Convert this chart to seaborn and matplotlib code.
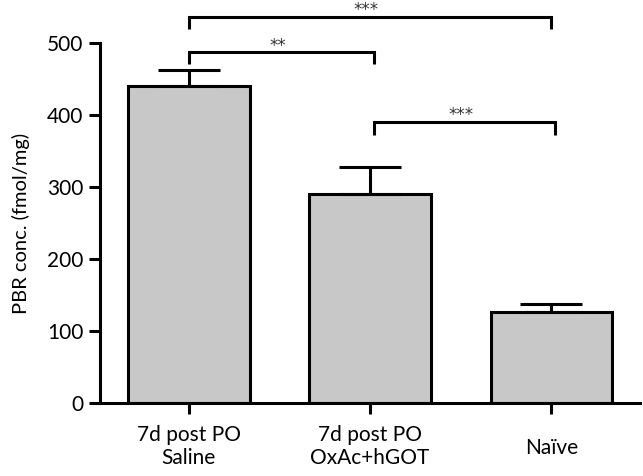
import pandas as pd
import matplotlib
matplotlib.use("Agg")
import matplotlib.pyplot as plt
import matplotlib.transforms as mtransforms
import seaborn as sns

# values
groups = ["7d post PO\nSaline", "7d post PO\nOxAc+hGOT", "Naïve"]
means = [440, 290, 126]
sems = [22, 38, 12]

# significance brackets: (left group, right group, label)
comparisons = [(0, 2, "***"), (0, 1, "**"), (1, 2, "***")]

sns.set_style("ticks")
plt.rcParams["font.family"] = ["Lato", "DejaVu Sans"]
plt.rcParams["text.color"] = "black"
plt.rcParams["axes.labelcolor"] = "black"
plt.rcParams["xtick.color"] = "black"
plt.rcParams["ytick.color"] = "black"

df = pd.DataFrame({"group": groups, "conc": means})

fig = plt.figure(figsize=(6.43, 4.76), dpi=100)
ax = fig.add_axes([0.1555, 0.1534, 0.84, 0.7563])

sns.barplot(data=df, x="group", y="conc", color="#c8c8c8", saturation=1,
            width=0.67, edgecolor="black", linewidth=2.2, errorbar=None, ax=ax)

x = range(len(groups))
ax.errorbar(x, means, yerr=[[0] * len(sems), sems], fmt="none", ecolor="black",
            elinewidth=2.2, capsize=22, capthick=2.2, zorder=1)

ax.set_xlim(-0.49, 2.49)
ax.set_ylim(0, 500)
ax.set_yticks([0, 100, 200, 300, 400, 500])
ax.set_xlabel("")
ax.set_ylabel("PBR conc. (fmol/mg)", fontsize=14.5, labelpad=12)

for s in ["top", "right"]:
    ax.spines[s].set_visible(False)
for s in ["left", "bottom"]:
    ax.spines[s].set_linewidth(2.2)
    ax.spines[s].set_color("black")
ax.tick_params(axis="y", length=8, width=2.2, labelsize=15, pad=4)
ax.tick_params(axis="x", length=8, width=2.2, labelsize=15, pad=8)
for lab in ax.get_xticklabels():
    lab.set_linespacing(1.15)
    if "\n" not in lab.get_text():
        # single-line label sits between the two lines of its neighbours
        lab.set_transform(lab.get_transform() + mtransforms.ScaledTranslation(0, -13 / 100, fig.dpi_scale_trans))

# bracket geometry
levels = {(0, 2): (536, 519), (0, 1): (487, 471), (1, 2): (390, 372)}
offsets = {(0, 2): (0, 0), (0, 1): (0, 0.02), (1, 2): (0.02, 0.02)}
for a, b, label in comparisons:
    top, leg = levels[(a, b)]
    da, db = offsets[(a, b)]
    xa, xb = a + da, b + db
    ax.plot([xa, xa, xb, xb], [leg, top, top, leg], color="black", lw=2.2,
            clip_on=False, solid_capstyle="butt", solid_joinstyle="miter")
    ax.text((xa + xb) / 2 - 0.02, top - 3, label, ha="center", va="bottom",
            fontsize=12, family="DejaVu Sans", color="#333333", clip_on=False)

fig.savefig("out.png", dpi=100)
